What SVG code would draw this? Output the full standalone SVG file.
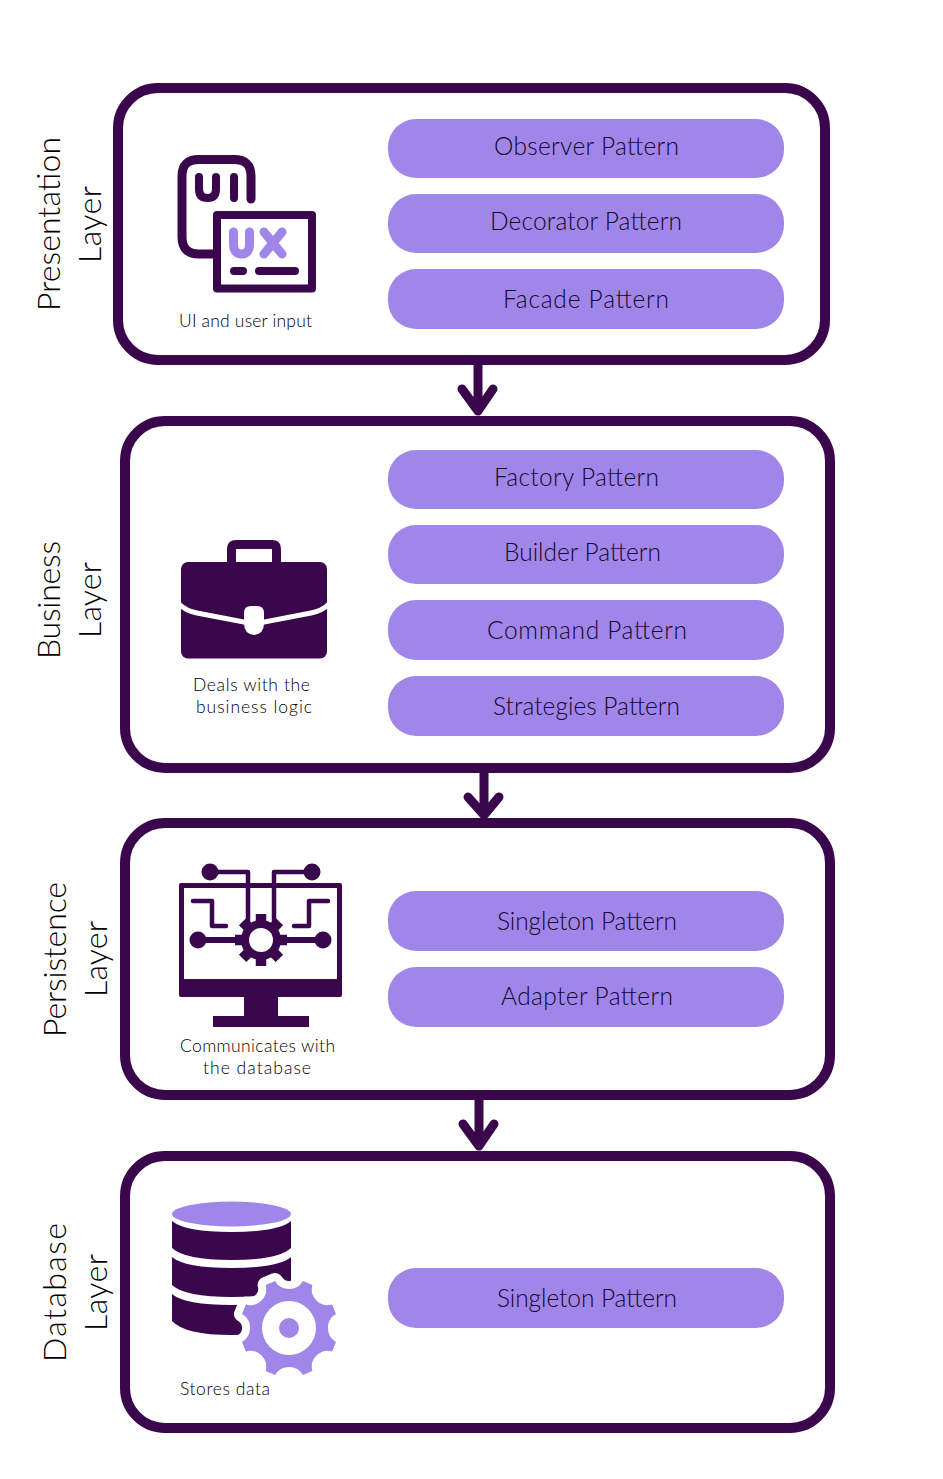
<svg xmlns="http://www.w3.org/2000/svg" width="943" height="1479" viewBox="0 0 943 1479">
<defs>
<style>
.box{fill:#fff;stroke:#3a064c;stroke-width:10}
.pill{fill:#a186ea}
.pt{font-family:"Lato","Liberation Sans",sans-serif;font-size:24.5px;font-weight:300;fill:#12062c;text-anchor:middle}
.cap{font-family:"Lato","Liberation Sans",sans-serif;font-size:17.5px;font-weight:300;fill:#000;text-anchor:middle}
.lab{font-family:"Lato","Liberation Sans",sans-serif;font-size:32px;font-weight:300;fill:#000;text-anchor:middle}
.arrow{fill:none;stroke:#3a064c;stroke-width:9;stroke-linecap:round;stroke-linejoin:round}
.dk{fill:none;stroke:#3a064c;stroke-linecap:round;stroke-linejoin:round}
.pu{fill:none;stroke:#a186ea;stroke-width:9;stroke-linecap:round;stroke-linejoin:round}
.fd{fill:#3a064c}
.fp{fill:#a186ea}
</style>
<path id="gear" d="M302.900 1281L312.400 1284.900A16 16 0 0 0 332.100 1304.600L336 1314.100A16 16 0 0 0 336 1341.900L332.100 1351.400A16 16 0 0 0 312.400 1371.100L302.900 1375A16 16 0 0 0 275.100 1375L265.600 1371.100A16 16 0 0 0 245.900 1351.400L242 1341.900A16 16 0 0 0 242 1314.100L245.900 1304.600A16 16 0 0 0 265.600 1284.900L275.100 1281A16 16 0 0 0 302.900 1281Z"/>
</defs>
<rect width="943" height="1479" fill="#fff"/>
<g id="connectors">
<path class="arrow" d="M478 365V411M462 389L478 411L493 389"/>
<path class="arrow" d="M484 773V815M468 797L484 815L499 797"/>
<path class="arrow" d="M479 1100V1146M463 1124L479 1146L494 1124"/>
</g>
<g id="presentation-layer">
<rect class="box" x="118" y="88" width="707" height="272" rx="40"/>
<text class="lab" transform="translate(60 224) rotate(-90)" textLength="174">Presentation</text>
<text class="lab" transform="translate(101 224.500) rotate(-90)" textLength="77">Layer</text>
<g id="ui-icon">
<path class="dk" stroke-width="9" d="M213 254H199Q182 254 182 237V176Q182 159.500 199 159.500H234Q251 159.500 251 176V199"/>
<path class="dk" stroke-width="8" d="M199 177V189Q199 198 207.500 198Q216 198 216 189V177M234 177V198"/>
<rect x="217" y="215" width="95" height="73.500" fill="#fff" stroke="#3a064c" stroke-width="8" stroke-linejoin="round"/>
<path class="pu" d="M233.500 232V244Q233.500 254 241.500 254Q249.500 254 249.500 244V232M264 232L282 254M282 232L264 254"/>
<path class="dk" stroke-width="8" d="M234 271H243M259 271H295"/>
</g>
<text class="cap" x="245.500" y="327" textLength="133">UI and user input</text>
<rect class="pill" x="388" y="119" width="396" height="59" rx="28"/><text class="pt" x="586.500" y="155" textLength="185">Observer Pattern</text>
<rect class="pill" x="388" y="194" width="396" height="59" rx="28"/><text class="pt" x="586" y="230" textLength="192">Decorator Pattern</text>
<rect class="pill" x="388" y="269" width="396" height="60" rx="28"/><text class="pt" x="586" y="308" textLength="166">Facade Pattern</text>
</g>
<g id="business-layer">
<rect class="box" x="125" y="421" width="705" height="347" rx="40"/>
<text class="lab" transform="translate(60 600) rotate(-90)" textLength="118">Business</text>
<text class="lab" transform="translate(101 600) rotate(-90)" textLength="76">Layer</text>
<g id="briefcase-icon">
<path class="fd" fill-rule="evenodd" d="M227 562V549Q227 540 236 540H272Q281 540 281 549V562ZM236 549V562H272V549Z"/>
<rect class="fd" x="181" y="562" width="146" height="96.500" rx="7"/>
<path fill="none" stroke="#fff" stroke-width="5" d="M179 604Q186 611 197 613L254 624L311 613Q322 611 329 604"/>
<path fill="#fff" d="M244 613Q244 606 251 606H257Q264 606 264 613V623Q264 634 254 635Q244 634 244 623Z"/>
</g>
<text class="cap" x="251.500" y="691" textLength="117">Deals with the</text>
<text class="cap" x="254" y="713" textLength="116">business logic</text>
<rect class="pill" x="388" y="450" width="396" height="59" rx="28"/><text class="pt" x="576.500" y="486" textLength="165">Factory Pattern</text>
<rect class="pill" x="388" y="525" width="396" height="59" rx="28"/><text class="pt" x="582.500" y="561" textLength="157">Builder Pattern</text>
<rect class="pill" x="388" y="600" width="396" height="60" rx="28"/><text class="pt" x="587" y="639" textLength="200">Command Pattern</text>
<rect class="pill" x="388" y="676" width="396" height="60" rx="28"/><text class="pt" x="586.500" y="715" textLength="187">Strategies Pattern</text>
</g>
<g id="persistence-layer">
<rect class="box" x="125" y="823" width="705" height="272" rx="40"/>
<text class="lab" transform="translate(66 959.500) rotate(-90)" textLength="155">Persistence</text>
<text class="lab" transform="translate(107 959) rotate(-90)" textLength="76">Layer</text>
<g id="monitor-icon">
<path class="fd" fill-rule="evenodd" d="M179 885Q179 883 181 883H340Q342 883 342 885V995Q342 997 340 997H278V1016H309V1027H213V1016H244V997H181Q179 997 179 995ZM184 888V979H337V888Z"/>
<g class="dk" stroke-width="4.500">
<path d="M211 872H248V925M311 872H274V925"/>
<path d="M193 901H212V926H226M328 901H309V926H294"/>
<path d="M198 940H240M323 940H282" stroke-width="6"/>
</g>
<circle class="fd" cx="210" cy="872" r="8.500"/><circle class="fd" cx="312" cy="872" r="8.500"/>
<circle class="fd" cx="198" cy="940" r="8.500"/><circle class="fd" cx="323" cy="940" r="8.500"/>
<g stroke="#3a064c" stroke-width="10.500">
<path d="M261 914V966M235 940H287M242.600 921.600L279.400 958.400M279.400 921.600L242.600 958.400"/>
</g>
<circle cx="261" cy="940" r="20" class="fd"/>
<circle cx="261" cy="940" r="12" fill="#fff"/>
</g>
<text class="cap" x="257.500" y="1052" textLength="155">Communicates with</text>
<text class="cap" x="257" y="1074" textLength="108">the database</text>
<rect class="pill" x="388" y="891" width="396" height="60" rx="28"/><text class="pt" x="587" y="930" textLength="180">Singleton Pattern</text>
<rect class="pill" x="388" y="967" width="396" height="60" rx="28"/><text class="pt" x="587" y="1005" textLength="172">Adapter Pattern</text>
</g>
<g id="database-layer">
<rect class="box" x="125" y="1156" width="705" height="272" rx="40"/>
<text class="lab" transform="translate(66 1292.500) rotate(-90)" textLength="139">Database</text>
<text class="lab" transform="translate(107 1292.500) rotate(-90)" textLength="77">Layer</text>
<g id="database-icon">
<ellipse class="fp" cx="231.500" cy="1214" rx="59.500" ry="12.500"/>
<path class="fd" d="M172 1221Q185 1232 231.500 1232Q278 1232 291 1221V1248Q278 1260 231.500 1260Q185 1260 172 1248Z"/>
<path class="fd" d="M172 1257Q185 1268 231.500 1268Q278 1268 291 1257V1285Q278 1297 231.500 1297Q185 1297 172 1285Z"/>
<path class="fd" d="M172 1294Q185 1305 231.500 1305Q278 1305 291 1294V1321Q278 1335 231.500 1335Q185 1335 172 1321Z"/>
<use href="#gear" fill="#fff" stroke="#fff" stroke-width="16" stroke-linejoin="round"/>
<use href="#gear" class="fp"/>
<circle cx="289" cy="1328" r="27" fill="#fff"/>
<circle cx="289" cy="1328" r="10" class="fp"/>
</g>
<text class="cap" x="225" y="1395" textLength="90">Stores data</text>
<rect class="pill" x="388" y="1268" width="396" height="60" rx="28"/><text class="pt" x="587" y="1307" textLength="180">Singleton Pattern</text>
</g>
</svg>
